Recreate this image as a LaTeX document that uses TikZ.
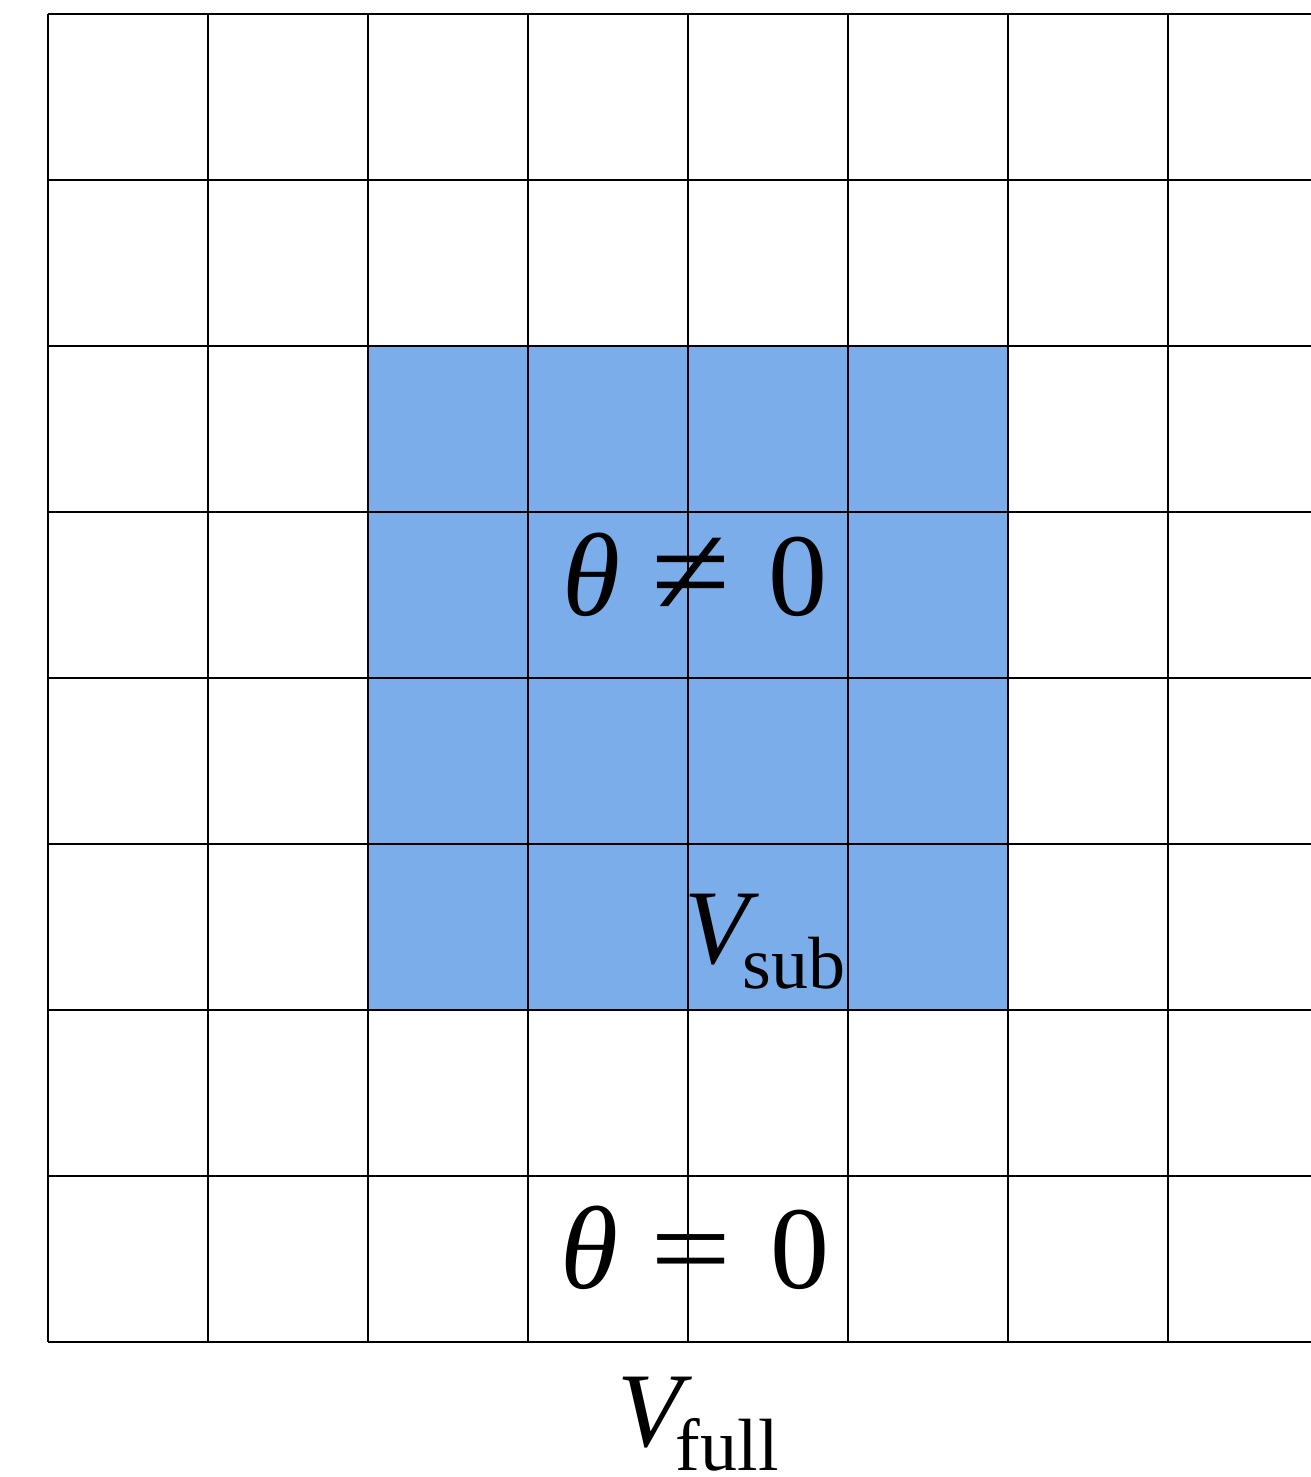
\documentclass[tikz,border=0pt]{standalone}
\usepackage{fontspec}
\usepackage{graphicx}
\setmainfont{Liberation Serif}
\definecolor{subblue}{RGB}{123,173,235}
\begin{document}
\begin{tikzpicture}[x=1pt,y=-1pt,
  gridline/.style={line width=2pt,black},
  bigtxt/.style={inner sep=0pt,font=\fontsize{118}{118}\selectfont},
  vtxt/.style={inner sep=0pt,anchor=base west,font=\fontsize{106}{106}\selectfont}]
\useasboundingbox (0,0) rectangle (1311,1477);
\fill[subblue] (368,346) rectangle (1008,1010);
\foreach \k in {0,...,7}{
  \draw[gridline] ({48+160*\k},14) -- ({48+160*\k},1342);
}
\foreach \k in {0,...,8}{
  \draw[gridline] (48,{14+166*\k}) -- (1311,{14+166*\k});
}
\node[bigtxt,anchor=base] (neq) at (695,615) {{\itshape θ}\hspace{32pt}\scalebox{1.22}[1.1]{≠}\hspace{38pt}0};
\node[bigtxt,anchor=base] (eq) at (695,1288) {{\itshape θ}\hspace{32pt}\scalebox{1.22}[1]{=}\hspace{38pt}0};
\node[vtxt] (vsub) at (684,963) {\itshape V\upshape\kern-6pt\raisebox{-25pt}{\fontsize{74}{74}\selectfont sub}};
\node[vtxt] (vfull) at (617,1446) {\itshape V\upshape\kern-6pt\raisebox{-24pt}{\fontsize{74}{74}\selectfont full}};
\end{tikzpicture}
\end{document}
